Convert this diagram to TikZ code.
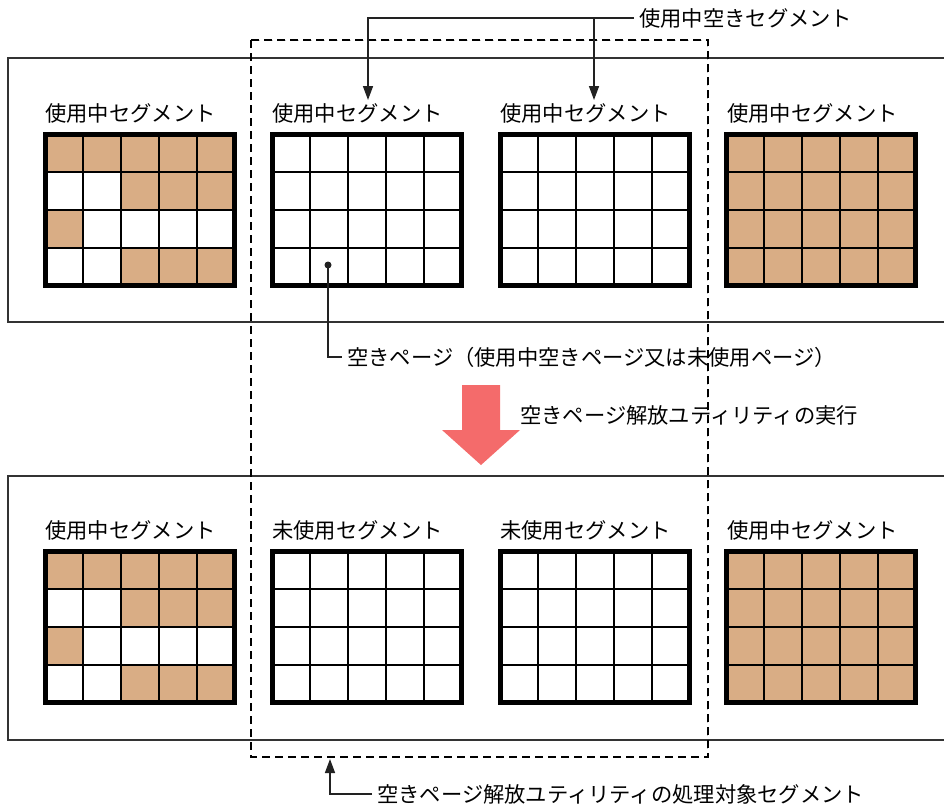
\documentclass[tikz,border=0pt]{standalone}
\usepackage{fontspec}
\setmainfont{Noto Sans CJK JP}
\usetikzlibrary{arrows.meta,positioning}
\definecolor{pagec}{HTML}{D9AD85}
\definecolor{runc}{HTML}{F46B6B}
\definecolor{linec}{HTML}{222222}
\tikzset{
  lbl/.style={anchor=west,inner sep=0pt,line width=0.4pt,font=\fontsize{21.3}{23}\selectfont},
  note/.style={anchor=west,inner xsep=5pt,inner ysep=0pt,line width=0.4pt,font=\fontsize{21.3}{23}\selectfont},
  ar/.style={-{Triangle[length=14pt,width=10pt]},line width=1.5pt,linec},
  ln/.style={line width=1.5pt,linec},
  panel/.style={line width=1.5pt,black!80},
  grd/.style={line width=2pt,black},
  frm/.style={line width=5pt,black},
  tgt/.style={line width=1.5pt,dash pattern=on 8pt off 5pt,black}
}
\def\cw{37.8}\def\ch{37.75}
% one segment: 5 x 4 pages, origin at the frame's top left
\newcommand{\segbox}[3]{%
  \begin{scope}[shift={(#1,#2)}]
    \fill[#3] (0,0) rectangle (5*\cw,4*\ch);
  \end{scope}}
\newcommand{\segframe}[2]{%
  \begin{scope}[shift={(#1,#2)}]
    \foreach \i in {1,...,4} \draw[grd] (\i*\cw,0) -- ++(0,4*\ch);
    \foreach \j in {1,2,3} \draw[grd] (0,\j*\ch) -- ++(5*\cw,0);
    \draw[frm] (0,0) rectangle (5*\cw,4*\ch);
  \end{scope}}
\newcommand{\usedpages}[3]{%
  \begin{scope}[shift={(#1,#2)}]
    \foreach \c/\r in {#3} \fill[pagec] (\c*\cw,\r*\ch) rectangle ++(\cw,\ch);
  \end{scope}}

\begin{document}
\begin{tikzpicture}[x=1pt,y=-1pt]
\useasboundingbox (0,0) rectangle (944,807);
% labels
\node[lbl] (useA) at (45,113) {使用中セグメント};
\node[lbl] (useB) at (272,113) {使用中セグメント};
\node[lbl] (useC) at (500,113) {使用中セグメント};
\node[lbl] (useD) at (727,113) {使用中セグメント};
\node[lbl] (aftA) at (45,530) {使用中セグメント};
\node[lbl] (aftB) at (272,530) {未使用セグメント};
\node[lbl] (aftC) at (500,530) {未使用セグメント};
\node[lbl] (aftD) at (727,530) {使用中セグメント};
% panels (before / after)
\draw[panel] (946,58) -- (8,58) -- (8,322) -- (946,322);
\draw[panel] (946,476) -- (8,476) -- (8,740) -- (946,740);
% segments, before
\segbox{45.5}{134.5}{white}
\usedpages{45.5}{134.5}{0/0,1/0,2/0,3/0,4/0,2/1,3/1,4/1,0/2,2/3,3/3,4/3}
\segbox{272.5}{134.5}{white}
\segbox{500.5}{134.5}{white}
\segbox{726.5}{134.5}{pagec}
\foreach \x in {45.5,272.5,500.5,726.5} \segframe{\x}{134.5}
% segments, after
\segbox{45.5}{551.5}{white}
\usedpages{45.5}{551.5}{0/0,1/0,2/0,3/0,4/0,2/1,3/1,4/1,0/2,2/3,3/3,4/3}
\segbox{272.5}{551.5}{white}
\segbox{500.5}{551.5}{white}
\segbox{726.5}{551.5}{pagec}
\foreach \x in {45.5,272.5,500.5,726.5} \segframe{\x}{551.5}
% target area
\draw[tgt] (251,40) rectangle (708,757);
% free segments
\node[note] (freeseg) at (634,18) {使用中空きセグメント};
\coordinate (tipB) at (368,100);
\coordinate (tipC) at (594,100);
\draw[ar] (freeseg.west) -| (tipB);
\draw[ar] (tipC |- freeseg.west) -- (tipC);
% free page
\coordinate (dotp) at (328,265);
\fill[linec] (dotp) circle (3.5pt);
\node[note] (freepg) at (342,357) {空きページ（使用中空きページ又は未使用ページ）};
\draw[ln] (dotp) |- (freepg.west);
% utility run
\fill[runc] (462,385) -- (500,385) -- (500,430) -- (520,430) -- (481,465)
  -- (442,430) -- (462,430) -- cycle;
\node[lbl] (runlbl) at (520,415) {空きページ解放ユティリティの実行};
% target note
\coordinate (tgtp) at (330,759);
\node[note] (tgtlbl) at (372,794) {空きページ解放ユティリティの処理対象セグメント};
\draw[ar] (tgtlbl.west) -| (tgtp);
\end{tikzpicture}
\end{document}
